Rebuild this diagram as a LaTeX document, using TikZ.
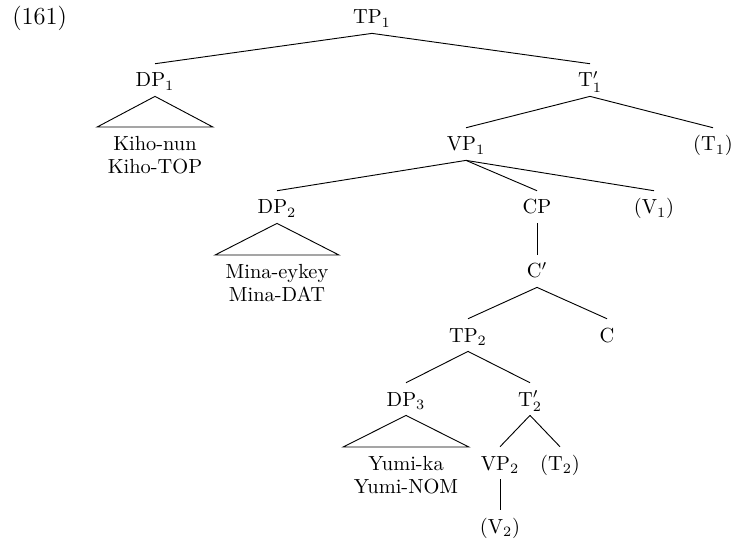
\documentclass[tikz,border=0pt]{standalone}
\begin{document}
\begin{tikzpicture}[x=0.49pt,y=-0.49pt,
  cat/.style={anchor=base,text height=7.8pt,text depth=1pt,inner ysep=3.4pt,inner xsep=2pt},
  leaf/.style={anchor=north,align=center,inner xsep=5pt,inner ysep=4.3pt},
  branch/.style={line width=0.45pt}]
\useasboundingbox (0,0) rectangle (733,541);
\node[anchor=base west,inner sep=0pt,font=\large] (ex) at (12,25) {(161)};
% nonterminals
\node[cat] (tp1) at (372,24) {TP$_1$};
\node[cat] (dp1) at (155,87) {DP$_1$};
\node[cat] (t1b) at (590,87) {$\mathrm{T}'_1$};
\node[cat] (vp1) at (466,151) {VP$_1$};
\node[cat] (t1) at (713,151) {(T$_1$)};
\node[cat] (dp2) at (277,214) {DP$_2$};
\node[cat] (cp) at (537,214) {CP};
\node[cat] (v1) at (654,214) {(V$_1$)};
\node[cat] (cb) at (537,278) {$\mathrm{C}'$};
\node[cat] (tp2) at (468,342) {TP$_2$};
\node[cat] (c) at (607,342) {C};
\node[cat] (dp3) at (406,406) {DP$_3$};
\node[cat] (t2b) at (530,406) {$\mathrm{T}'_2$};
\node[cat] (vp2) at (500,470) {VP$_2$};
\node[cat] (t2) at (560,470) {(T$_2$)};
\node[cat] (v2) at (500,533) {(V$_2$)};
% leaves
\node[leaf] (kiho) at (155,127) {Kiho-nun\\[-0.7pt]Kiho-TOP};
\node[leaf] (mina) at (277,255) {Mina-eykey\\[-0.7pt]Mina-DAT};
\node[leaf] (yumi) at (406,447) {Yumi-ka\\[-0.7pt]Yumi-NOM};
% branches
\draw[branch] (tp1.south) -- (dp1.north);
\draw[branch] (tp1.south) -- (t1b.north);
\draw[branch] (t1b.south) -- (vp1.north);
\draw[branch] (t1b.south) -- (t1.north);
\draw[branch] (vp1.south) -- (dp2.north);
\draw[branch] (vp1.south) -- (cp.north);
\draw[branch] (vp1.south) -- (v1.north);
\draw[branch] (cp.south) -- (cb.north);
\draw[branch] (cb.south) -- (tp2.north);
\draw[branch] (cb.south) -- (c.north);
\draw[branch] (tp2.south) -- (dp3.north);
\draw[branch] (tp2.south) -- (t2b.north);
\draw[branch] (t2b.south) -- (vp2.north);
\draw[branch] (t2b.south) -- (t2.north);
\draw[branch] (vp2.south) -- (v2.north);
% triangles
\draw[branch] (dp1.south) -- (kiho.north west) -- (kiho.north east) -- cycle;
\draw[branch] (dp2.south) -- (mina.north west) -- (mina.north east) -- cycle;
\draw[branch] (dp3.south) -- (yumi.north west) -- (yumi.north east) -- cycle;
\end{tikzpicture}
\end{document}
